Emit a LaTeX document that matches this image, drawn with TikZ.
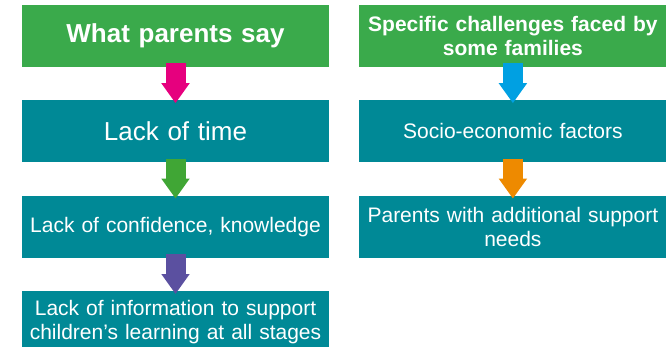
\documentclass[tikz,border=0pt]{standalone}
\usepackage{fontspec}
\setmainfont{Liberation Sans}
\usepackage{xcolor}
\usetikzlibrary{arrows.meta,positioning}

\definecolor{headgreen}{RGB}{58,170,75}
\definecolor{boxteal}{RGB}{0,137,150}
\definecolor{arrpink}{RGB}{230,0,126}
\definecolor{arrgreen}{RGB}{64,166,53}
\definecolor{arrpurple}{RGB}{91,80,160}
\definecolor{arrblue}{RGB}{0,160,226}
\definecolor{arrorange}{RGB}{238,138,0}

\begin{document}
\begin{tikzpicture}[
    node distance=33pt and 30pt,
    block/.style={minimum height=62pt, minimum width=307pt, text width=299pt,
                  inner xsep=4pt, inner ysep=0pt, align=center, text=white,
                  font=\fontsize{21}{24}\selectfont, fill=#1},
    block/.default=boxteal,
    head/.style={block=headgreen, font=\fontsize{21}{24}\selectfont\bfseries},
    fat/.style={line width=20pt, draw=#1, -{Triangle[length=20pt, width=27pt]},
                shorten <=-4pt, shorten >=-3pt},
]
    \useasboundingbox (0,0) rectangle (670pt,-346pt);
    \clip (0,0) rectangle (670pt,-346pt);

    % What parents say
    \node[head, font=\fontsize{26}{30}\selectfont\bfseries] (say) at (175.5pt,-36pt) {What parents say};
    \node[block, below=of say, font=\fontsize{26}{30}\selectfont] (time) {Lack of time};
    \node[block, below=of time] (conf) {Lack of confidence, knowledge};
    \node[block, below=of conf] (info)
        {Lack of information to support\\children’s learning at all stages};

    % Specific challenges
    \node[head, right=of say] (spec) {Specific challenges faced by\\some families};
    \node[block, below=of spec] (socio) {Socio-economic factors};
    \node[block, below=of socio] (needs) {Parents with additional support\\needs};

    % Arrows
    \draw[fat=arrpink] (say) -- (time);
    \draw[fat=arrgreen] (time) -- (conf);
    \draw[fat=arrpurple] (conf) -- (info);
    \draw[fat=arrblue] (spec) -- (socio);
    \draw[fat=arrorange] (socio) -- (needs);
\end{tikzpicture}
\end{document}
